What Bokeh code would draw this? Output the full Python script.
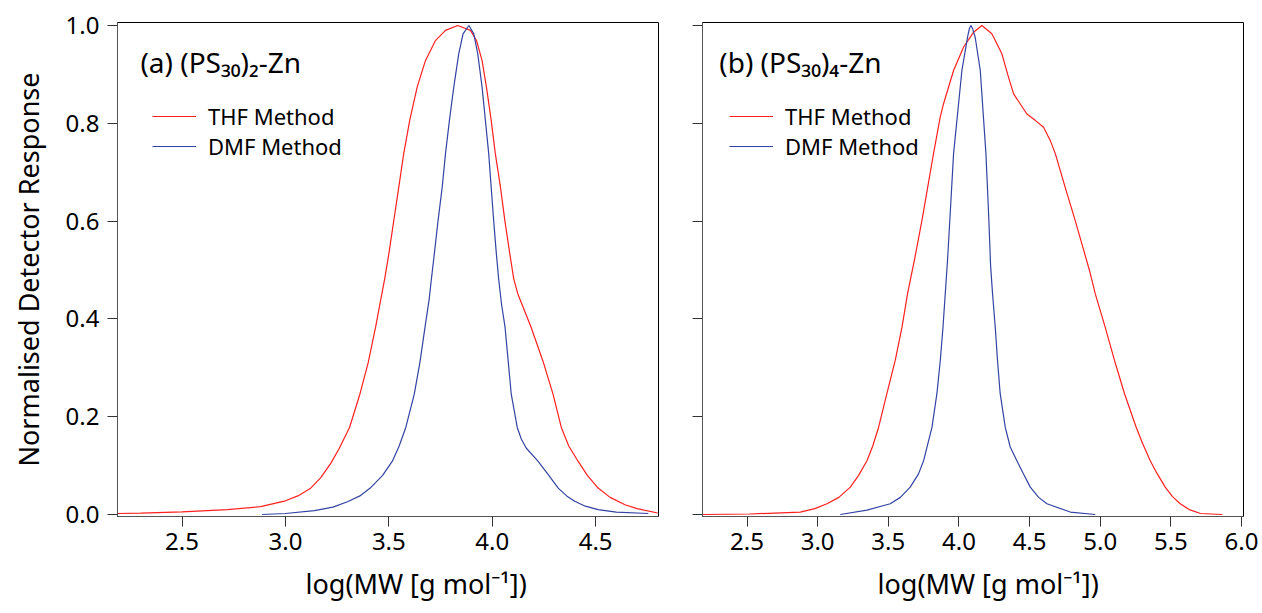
from bokeh.plotting import figure
from bokeh.models import (Range1d, FixedTicker, PrintfTickFormatter, CustomJSTickFormatter,
                          Legend, LegendItem, Label, Title)
from bokeh.layouts import row
from bokeh.embed import file_html
from bokeh.resources import INLINE

FONT = "Noto Sans"
RED = "#ff1f1f"
BLUE = "#3343a3"

# ---------------- data ----------------
# Panel (a) (PS30)2-Zn
thf_a_x = [2.19, 2.30, 2.50, 2.72, 2.88, 3.00, 3.06, 3.12, 3.17, 3.22, 3.26, 3.31, 3.36,
           3.40, 3.436, 3.48, 3.50, 3.524, 3.548, 3.572, 3.601, 3.637, 3.677, 3.725, 3.774,
           3.833, 3.895, 3.924, 3.951, 3.972, 3.995, 4.015, 4.040, 4.061, 4.085, 4.104,
           4.124, 4.188, 4.245, 4.294, 4.334, 4.37, 4.415, 4.46, 4.512, 4.57, 4.642, 4.70,
           4.80]
thf_a_y = [0.002, 0.003, 0.0055, 0.010, 0.016, 0.028, 0.038, 0.053, 0.075, 0.105, 0.135,
           0.178, 0.246, 0.310, 0.383, 0.482, 0.533, 0.601, 0.669, 0.738, 0.806, 0.874,
           0.928, 0.969, 0.990, 1.000, 0.990, 0.969, 0.928, 0.874, 0.806, 0.738, 0.669,
           0.601, 0.533, 0.482, 0.451, 0.383, 0.314, 0.246, 0.178, 0.140, 0.109, 0.080,
           0.054, 0.035, 0.020, 0.012, 0.003]
dmf_a_x = [2.887, 3.00, 3.14, 3.23, 3.30, 3.36, 3.41, 3.47, 3.517, 3.55, 3.582, 3.623,
           3.65, 3.675, 3.695, 3.706, 3.720, 3.738, 3.758, 3.774, 3.793, 3.814, 3.838,
           3.859, 3.887, 3.911, 3.930, 3.951, 3.967, 3.983, 3.995, 4.007, 4.020, 4.031,
           4.045, 4.062, 4.078, 4.092, 4.121, 4.14, 4.164, 4.221, 4.270, 4.319, 4.36,
           4.399, 4.45, 4.512, 4.60, 4.755]
dmf_a_y = [0.000, 0.002, 0.008, 0.015, 0.026, 0.038, 0.054, 0.080, 0.109, 0.140, 0.178,
           0.246, 0.310, 0.383, 0.440, 0.482, 0.533, 0.601, 0.669, 0.738, 0.806, 0.874,
           0.942, 0.983, 1.000, 0.983, 0.942, 0.874, 0.806, 0.738, 0.669, 0.601, 0.533,
           0.482, 0.430, 0.383, 0.310, 0.246, 0.178, 0.155, 0.136, 0.109, 0.082, 0.054,
           0.038, 0.027, 0.017, 0.0098, 0.005, 0.002]

# Panel (b) (PS30)4-Zn
thf_b_x = [2.19, 2.52, 2.877, 2.98, 3.066, 3.15, 3.231, 3.29, 3.349, 3.39, 3.431, 3.490,
           3.549, 3.597, 3.636, 3.684, 3.738, 3.820, 3.867, 3.891, 3.962, 4.033, 4.103,
           4.163, 4.233, 4.304, 4.351, 4.387, 4.481, 4.540, 4.599, 4.646, 4.682, 4.752,
           4.823, 4.924, 4.965, 5.035, 5.101, 5.172, 5.255, 5.30, 5.354, 5.40, 5.460,
           5.51, 5.566, 5.63, 5.71, 5.864]
thf_b_y = [0.000, 0.001, 0.005, 0.012, 0.022, 0.035, 0.056, 0.080, 0.110, 0.140, 0.178,
           0.247, 0.315, 0.383, 0.451, 0.519, 0.601, 0.738, 0.812, 0.840, 0.908, 0.956,
           0.986, 1.000, 0.983, 0.942, 0.894, 0.860, 0.819, 0.806, 0.792, 0.765, 0.738,
           0.669, 0.601, 0.499, 0.451, 0.383, 0.315, 0.247, 0.178, 0.145, 0.110, 0.085,
           0.056, 0.037, 0.022, 0.010, 0.002, 0.000]
dmf_b_x = [3.16, 3.349, 3.514, 3.585, 3.655, 3.714, 3.750, 3.809, 3.844, 3.868, 3.887,
           3.903, 3.919, 3.938, 3.962, 4.021, 4.061, 4.074, 4.085, 4.096, 4.115, 4.151,
           4.191, 4.210, 4.224, 4.238, 4.257, 4.273, 4.292, 4.328, 4.363, 4.410, 4.457,
           4.505, 4.564, 4.623, 4.788, 4.965]
dmf_b_y = [0.000, 0.009, 0.022, 0.035, 0.056, 0.083, 0.110, 0.178, 0.247, 0.315, 0.383,
           0.451, 0.519, 0.615, 0.738, 0.908, 0.976, 0.994, 1.000, 0.994, 0.976, 0.908,
           0.738, 0.615, 0.509, 0.451, 0.383, 0.315, 0.247, 0.178, 0.138, 0.110, 0.083,
           0.056, 0.035, 0.022, 0.005, 0.000]

y_ticks = [0.0, 0.2, 0.4, 0.6, 0.8, 1.0]
x_ticks_a = [2.5, 3.0, 3.5, 4.0, 4.5]
x_ticks_b = [2.5, 3.0, 3.5, 4.0, 4.5, 5.0, 5.5, 6.0]
series_names = ["THF Method", "DMF Method"]
titles = ["(a) (PS\u2083\u2080)\u2082-Zn", "(b) (PS\u2083\u2080)\u2084-Zn"]
x_label = "log(MW [g mol\u207b\u00b9])"
y_label = "Normalised Detector Response"


def style(p, xticks):
    p.grid.visible = False
    p.outline_line_color = "black"
    p.outline_line_width = 1
    for ax in (p.xaxis[0], p.yaxis[0]):
        ax.axis_line_color = "#555555"
        ax.major_tick_line_color = "#333333"
        ax.major_tick_out = 10
        ax.major_tick_in = 0
        ax.minor_tick_out = 0
        ax.minor_tick_in = 0
        ax.major_label_text_font = FONT
        ax.major_label_text_font_size = "24px"
        ax.major_label_text_color = "black"
        ax.axis_label_text_font = FONT
        ax.axis_label_text_font_size = "27px"
        ax.axis_label_text_font_style = "normal"
        ax.axis_label_text_color = "black"
    p.xaxis[0].ticker = FixedTicker(ticks=xticks)
    p.xaxis[0].formatter = PrintfTickFormatter(format="%.1f")
    p.xaxis[0].major_label_standoff = 6
    p.yaxis[0].ticker = FixedTicker(ticks=y_ticks)


def add_curves(p, xs1, ys1, xs2, ys2, legend_x, title_x, title, xlab_offset):
    r1 = p.line(xs1, ys1, line_color=RED, line_width=1.2)
    r2 = p.line(xs2, ys2, line_color=BLUE, line_width=1.2)
    leg = Legend(items=[LegendItem(label=series_names[0], renderers=[r1]),
                        LegendItem(label=series_names[1], renderers=[r2])],
                 location=(legend_x, 355), border_line_color=None,
                 background_fill_alpha=0, padding=0, spacing=0, margin=0,
                 label_height=30, glyph_height=30, glyph_width=44, label_standoff=12,
                 label_text_font=FONT, label_text_font_size="22px",
                 label_text_color="black")
    p.add_layout(leg)
    p.add_layout(Label(x=title_x, y=0.925, text=title, text_font=FONT,
                       text_font_size="28px", text_baseline="alphabetic",
                       text_color="black"))
    # x-axis title below the axis, placed as in the reference (right of centre)
    p.add_layout(Title(text=x_label, align="left", offset=xlab_offset, standoff=20,
                       text_font=FONT, text_font_size="27px", text_font_style="normal",
                       text_color="black"), "below")


y_rng = (-0.0041, 1.0061)

p1 = figure(width=680, height=613, x_range=Range1d(2.188, 4.804), y_range=Range1d(*y_rng),
            output_backend="svg", toolbar_location=None,
            min_border_left=117, min_border_right=22, min_border_top=22, min_border_bottom=97)
style(p1, x_ticks_a)
p1.yaxis[0].formatter = PrintfTickFormatter(format="%.1f")
p1.yaxis[0].major_label_standoff = 8
p1.yaxis[0].axis_label = y_label
p1.yaxis[0].axis_label_standoff = 16
add_curves(p1, thf_a_x, thf_a_y, dmf_a_x, dmf_a_y, 35, 2.299, titles[0], 188)

p2 = figure(width=582, height=613, x_range=Range1d(2.185, 6.014), y_range=Range1d(*y_rng),
            output_backend="svg", toolbar_location=None,
            min_border_left=22, min_border_right=19, min_border_top=22, min_border_bottom=97)
style(p2, x_ticks_b)
p2.yaxis[0].formatter = CustomJSTickFormatter(code="return ''")
p2.yaxis[0].major_label_standoff = 0
add_curves(p2, thf_b_x, thf_b_y, dmf_b_x, dmf_b_y, 27, 2.304, titles[1], 175)

layout = row(p1, p2)
open("out.html", "w").write(file_html(layout, INLINE))
